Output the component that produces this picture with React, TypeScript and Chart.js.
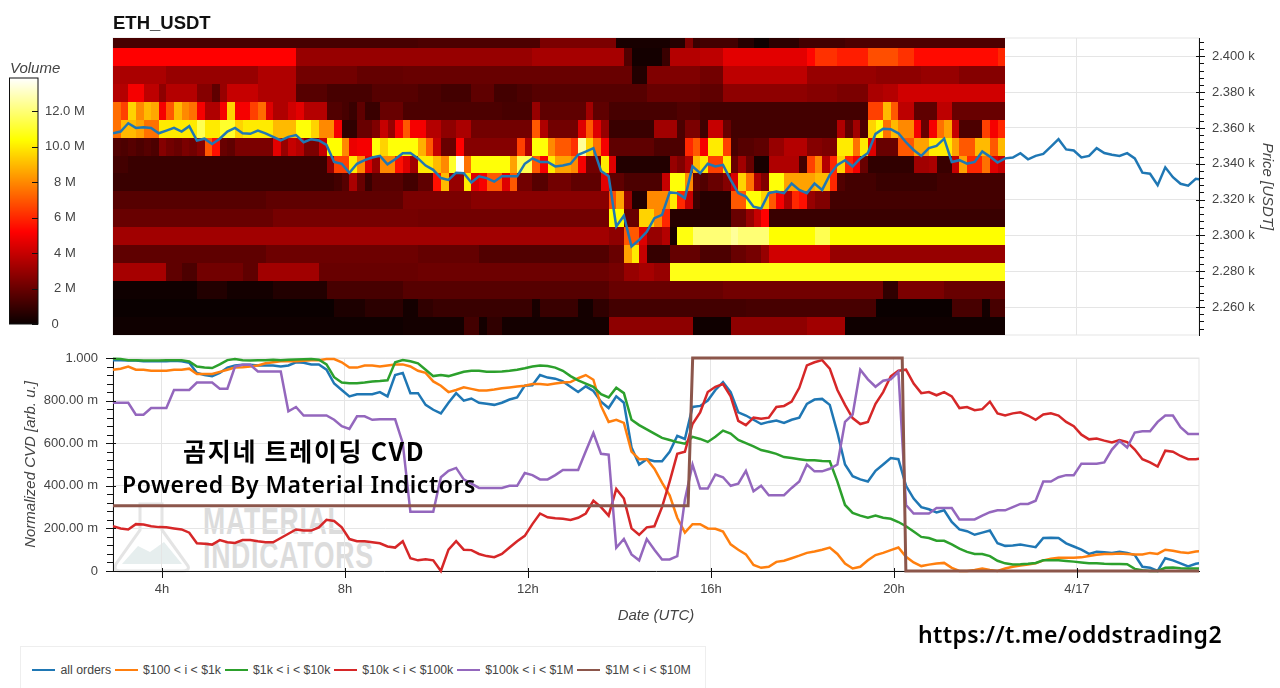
import { useEffect, useRef } from "react";
import { Chart, registerables } from "chart.js";

Chart.register(...registerables);

// time axis, in hours of 4/16 (24 = 4/17 00:00), one sample every 10 minutes
const startHour = 2.93;
const stepHours = 1 / 6;

const seriesLabels = ["all orders", "$100 < i < $1k", "$1k < i < $10k", "$10k < i < $100k", "$100k < i < $1M", "$1M < i < $10M"];
const seriesColors = ["#1f77b4", "#ff7f0e", "#2ca02c", "#d62728", "#9467bd", "#8c564b"];

const price = [
  2357, 2358, 2362.6, 2360, 2360.4, 2360, 2357, 2358.5, 2360, 2358, 2361, 2353, 2354, 2351, 2354, 2358, 2360, 2357, 2356.7, 2358.5,
  2357, 2355, 2353, 2355, 2356, 2352, 2353.7, 2353, 2350.5, 2341, 2340, 2335, 2340, 2342, 2343.5, 2344.4, 2339.7, 2342.5, 2345.9, 2346,
  2343, 2339, 2336.6, 2332, 2331, 2335, 2334.7, 2329.5, 2333, 2332, 2330, 2333, 2333, 2333, 2340, 2343, 2341, 2341, 2338.5, 2339,
  2340, 2345, 2346.8, 2348.7, 2336, 2333, 2305, 2311, 2293.8, 2297.5, 2302, 2309.6, 2311.5, 2324, 2323.6, 2320.8, 2338.5, 2334.7, 2340, 2338.5,
  2339.4, 2331, 2323.6, 2321.7, 2316, 2315, 2323.6, 2324.5, 2323.6, 2329, 2325.4, 2323.6, 2329, 2325.4, 2333.8, 2339.4, 2342, 2338.5, 2343, 2346,
  2356.7, 2359.5, 2359.3, 2357, 2352, 2347.7, 2344.4, 2348.7, 2350, 2354, 2341, 2342, 2340, 2341, 2346.8, 2344, 2340.7, 2343, 2343.5, 2345.9,
  2342.5, 2344.4, 2345.5, 2349.6, 2353.7, 2348, 2347.4, 2343.5, 2344.4, 2348.7, 2346, 2345, 2344.4, 2345.9, 2343, 2335, 2334.4, 2328, 2338, 2332.5,
  2328.8, 2327.8, 2331.6, 2331,
];

const allOrders = [
  0.99, 0.99, 0.988, 0.988, 0.985, 0.985, 0.985, 0.985, 0.987, 0.985, 0.978, 0.93, 0.92, 0.915, 0.93, 0.955, 0.965, 0.968, 0.968, 0.965,
  0.965, 0.965, 0.96, 0.965, 0.98, 0.978, 0.97, 0.97, 0.945, 0.88, 0.85, 0.82, 0.83, 0.83, 0.83, 0.84, 0.82, 0.92, 0.93, 0.835,
  0.835, 0.78, 0.757, 0.74, 0.79, 0.835, 0.8, 0.81, 0.79, 0.785, 0.78, 0.79, 0.805, 0.815, 0.87, 0.872, 0.92, 0.908, 0.903, 0.89,
  0.865, 0.84, 0.867, 0.845, 0.795, 0.765, 0.82, 0.79, 0.58, 0.5, 0.525, 0.515, 0.515, 0.56, 0.635, 0.62, 0.77, 0.775, 0.8, 0.85,
  0.887, 0.84, 0.745, 0.73, 0.71, 0.69, 0.7, 0.706, 0.695, 0.71, 0.72, 0.785, 0.805, 0.808, 0.78, 0.65, 0.5, 0.445, 0.43, 0.42,
  0.47, 0.5, 0.53, 0.525, 0.4, 0.34, 0.3, 0.29, 0.275, 0.285, 0.23, 0.195, 0.187, 0.17, 0.18, 0.19, 0.13, 0.118, 0.12, 0.124,
  0.118, 0.112, 0.155, 0.156, 0.155, 0.13, 0.115, 0.1, 0.08, 0.09, 0.088, 0.085, 0.09, 0.085, 0.075, 0.02, 0.015, 0, 0.06, 0.05,
  0.036, 0.022, 0.034, 0.04,
];

const orders100to1k = [
  0.945, 0.95, 0.96, 0.945, 0.945, 0.94, 0.94, 0.94, 0.945, 0.945, 0.95, 0.925, 0.925, 0.925, 0.935, 0.945, 0.955, 0.957, 0.96, 0.965,
  0.975, 0.98, 0.985, 0.985, 0.985, 0.987, 0.99, 0.99, 0.995, 0.995, 0.98, 0.955, 0.955, 0.965, 0.965, 0.96, 0.965, 0.97, 0.97, 0.96,
  0.94, 0.93, 0.89, 0.87, 0.84, 0.85, 0.862, 0.855, 0.848, 0.848, 0.852, 0.858, 0.862, 0.866, 0.87, 0.878, 0.878, 0.875, 0.88, 0.885,
  0.887, 0.905, 0.92, 0.898, 0.775, 0.7, 0.71, 0.695, 0.56, 0.525, 0.525, 0.48, 0.415, 0.355, 0.25, 0.18, 0.22, 0.22, 0.2, 0.198,
  0.185, 0.125, 0.1, 0.078, 0.028, 0.015, 0.02, 0.043, 0.048, 0.06, 0.072, 0.085, 0.092, 0.1, 0.11, 0.08, 0.035, 0.012, 0.02, 0.05,
  0.075, 0.085, 0.098, 0.11, 0.067, 0.04, 0.023, 0.03, 0.035, 0.038, 0.015, 0, 0, 0.005, 0.012, 0.005, 0, 0.012, 0.02, 0.026,
  0.03, 0.036, 0.05, 0.058, 0.062, 0.062, 0.062, 0.064, 0.07, 0.076, 0.08, 0.08, 0.082, 0.08, 0.078, 0.078, 0.085, 0.08, 0.1, 0.095,
  0.088, 0.085, 0.092, 0.093,
];

const orders1kto10k = [
  0.996, 0.995, 0.99, 0.99, 0.988, 0.988, 0.988, 0.99, 0.99, 0.99, 0.984, 0.96, 0.955, 0.953, 0.97, 0.99, 0.995, 0.99, 0.988, 0.99,
  0.99, 0.992, 0.99, 0.992, 0.993, 0.994, 0.995, 0.992, 0.97, 0.91, 0.885, 0.882, 0.882, 0.885, 0.89, 0.892, 0.895, 0.98, 0.99, 0.985,
  0.975, 0.945, 0.915, 0.92, 0.915, 0.925, 0.935, 0.94, 0.94, 0.935, 0.935, 0.937, 0.94, 0.945, 0.952, 0.96, 0.965, 0.962, 0.955, 0.94,
  0.915, 0.895, 0.88, 0.865, 0.83, 0.815, 0.86, 0.835, 0.71, 0.685, 0.665, 0.645, 0.625, 0.615, 0.605, 0.598, 0.63, 0.62, 0.606, 0.63,
  0.659, 0.645, 0.615, 0.6, 0.585, 0.568, 0.56, 0.55, 0.535, 0.53, 0.525, 0.52, 0.52, 0.517, 0.515, 0.42, 0.31, 0.273, 0.26, 0.25,
  0.26, 0.25, 0.245, 0.23, 0.21, 0.185, 0.16, 0.155, 0.142, 0.142, 0.125, 0.105, 0.09, 0.08, 0.08, 0.07, 0.048, 0.036, 0.031, 0.032,
  0.034, 0.038, 0.05, 0.05, 0.05, 0.047, 0.044, 0.04, 0.036, 0.036, 0.034, 0.033, 0.033, 0.032, 0.01, 0.004, 0, 0, 0.015, 0.016,
  0.013, 0.012, 0.012, 0.012,
];

const orders10kto100k = [
  0.21, 0.2, 0.195, 0.22, 0.218, 0.21, 0.206, 0.205, 0.2, 0.195, 0.18, 0.13, 0.128, 0.124, 0.145, 0.135, 0.132, 0.145, 0.146, 0.14,
  0.135, 0.135, 0.155, 0.175, 0.195, 0.19, 0.19, 0.205, 0.24, 0.235, 0.205, 0.15, 0.14, 0.14, 0.135, 0.13, 0.115, 0.11, 0.14, 0.06,
  0.05, 0.055, 0.05, 0, 0.1, 0.14, 0.1, 0.098, 0.08, 0.07, 0.065, 0.08, 0.11, 0.14, 0.165, 0.22, 0.27, 0.252, 0.248, 0.245,
  0.24, 0.25, 0.27, 0.33, 0.3, 0.26, 0.385, 0.34, 0.2, 0.17, 0.205, 0.21, 0.3, 0.42, 0.55, 0.56, 0.69, 0.745, 0.84, 0.865,
  0.878, 0.82, 0.705, 0.685, 0.72, 0.715, 0.72, 0.77, 0.775, 0.795, 0.86, 0.965, 0.98, 0.99, 0.95, 0.85, 0.78, 0.718, 0.69, 0.7,
  0.785, 0.84, 0.914, 0.94, 0.945, 0.88, 0.835, 0.84, 0.825, 0.84, 0.82, 0.765, 0.77, 0.755, 0.76, 0.795, 0.74, 0.73, 0.74, 0.745,
  0.73, 0.71, 0.735, 0.74, 0.73, 0.7, 0.68, 0.64, 0.618, 0.622, 0.612, 0.604, 0.615, 0.605, 0.57, 0.525, 0.51, 0.49, 0.565, 0.56,
  0.54, 0.525, 0.525, 0.53,
];

const orders100kto1M = [
  0.79, 0.79, 0.79, 0.734, 0.734, 0.765, 0.765, 0.765, 0.85, 0.85, 0.85, 0.885, 0.885, 0.885, 0.856, 0.856, 0.96, 0.968, 0.968, 0.937,
  0.937, 0.937, 0.937, 0.75, 0.77, 0.73, 0.73, 0.73, 0.73, 0.71, 0.68, 0.667, 0.726, 0.726, 0.71, 0.712, 0.712, 0.712, 0.6, 0.278,
  0.278, 0.278, 0.278, 0.44, 0.47, 0.484, 0.43, 0.41, 0.39, 0.39, 0.39, 0.39, 0.4, 0.4, 0.46, 0.45, 0.43, 0.43, 0.45, 0.474,
  0.474, 0.474, 0.562, 0.648, 0.55, 0.546, 0.109, 0.15, 0.078, 0.05, 0.15, 0.1, 0.054, 0.054, 0.07, 0.335, 0.5, 0.387, 0.387, 0.453,
  0.44, 0.4, 0.41, 0.47, 0.374, 0.4, 0.356, 0.356, 0.356, 0.39, 0.42, 0.5, 0.468, 0.468, 0.48, 0.5, 0.7, 0.734, 0.945, 0.9,
  0.865, 0.893, 0.9, 0.935, 0.31, 0.27, 0.27, 0.27, 0.296, 0.296, 0.296, 0.242, 0.242, 0.242, 0.26, 0.276, 0.285, 0.285, 0.3, 0.315,
  0.315, 0.33, 0.42, 0.42, 0.44, 0.45, 0.45, 0.504, 0.504, 0.504, 0.51, 0.57, 0.61, 0.58, 0.65, 0.656, 0.656, 0.7, 0.73, 0.73,
  0.675, 0.643, 0.643, 0.643,
];

// the largest bucket only jumps twice, so it keeps its own time list
const orders1Mto10MTimes = [2.93, 15.5, 15.6, 20.18, 20.26, 26.7];
const orders1Mto10M = [0.306, 0.306, 1, 1, 0, 0];

const cvdSeries = [allOrders, orders100to1k, orders1kto10k, orders10kto100k, orders100kto1M];

// order book heatmap: price bins, then volume in millions per bin and 10 minute column
const heatPrices = [2409.6, 2399.6, 2389.6, 2379.6, 2369.6, 2359.6, 2349.6, 2339.6, 2329.6, 2319.6, 2309.6, 2299.6, 2289.6, 2279.6, 2269.6, 2259.6, 2249.6];
const heatVolumes = [
  [
    1.3,1.3,1.3,1.3,1.3,1.3,1.3,1.3,1.3,1.3,1.3,1.3,1.3,1.3,1.3,1.3,1.3,1.3,1.3,1.3,
    1.3,1.3,1.3,1.3,1.3,1.3,1.3,1.3,1.3,1.3,1.3,1.3,1.3,1.3,1.3,1.3,1.3,1.3,1.3,1.3,
    1.4,1.4,1.4,1.4,1.4,1.4,1.4,1.4,1.4,1.4,1.4,1.4,1.4,1.4,1.4,1.4,2.4,2.4,2.4,2.4,
    2.4,2.4,2.4,2.4,2.4,2.4,.3,.3,.3,.3,.3,.3,.3,.6,.6,2.5,1,1.2,1.2,1.2,
    1.2,1.2,.6,.6,.1,.1,.7,.7,.7,.7,1.2,1.2,1.2,1.2,1.2,1.2,1.4,1.4,1.4,1.4,
    1.4,1.4,1.4,1.4,1.4,1.4,1.4,1.4,1.4,1.4,1.4,1.4,1.4,1.4,1.4,1.4,1.4,
  ],
  [
    5.2,5.2,5.2,5.2,5.2,5.2,5.2,5.2,5.2,5.2,5.2,5.2,5.2,5.2,5.2,5.2,5.2,5.2,5.2,5.2,
    5.2,5.2,5.2,5.2,3,3,3,3,3,3,3,3,3,3,3,3,3,3,3,3,
    3,3,3,3,3,3,3,3,3,3,3,3,3,3,3,3.3,3.3,3.3,3.3,3.3,
    3.3,3.3,3.3,3.3,3.3,3.3,3.3,1.5,.2,.2,.2,.2,1,3.6,3.6,3.6,3.6,3.8,3.8,3.8,
    4.6,4.6,4.6,4.6,4.6,4.6,4.6,4.6,4.6,4.6,4.6,5.3,6.2,6.2,6.2,5.8,5.8,5.8,5.8,6.8,
    6.8,6.8,6.8,6.2,6.2,5.4,5.4,5.4,5.4,5.4,5.4,5.4,5.4,5.4,5.4,5.4,6,
  ],
  [
    3.4,3.4,3.4,3.4,3.4,3.4,3.4,3,3,3,3,3,3,3,3,3,3,3,3,3.5,
    3.5,3.5,3.5,3.5,2.2,2.2,2.2,2.2,2.2,2.2,2.2,2.2,1.9,1.9,1.9,1.9,1.9,1.9,2,2,
    2,2,2,2,2,2,2,2,2,2,2,2,2,2,2,2,2,2,2,2,
    2,2,2,2,2,2,2,2,.5,.5,2.5,2.5,2.5,2.5,2.5,2.5,2.5,2.2,2.2,2.2,
    3.8,3.8,3.8,3.8,3.8,3.8,3.8,3.8,3.8,3.8,3.8,3,3,3,3,3,3,3,3,3,
    2.8,2.8,2.8,2.8,2.8,2.8,3,3,3,3,3,2.6,2.6,2.6,2.6,2.6,2.6,
  ],
  [
    3.6,3.6,5,5,3.8,3.8,2.8,3.6,3.6,3.6,3.6,2.6,2.6,1.8,3,4,4,4,4,3.5,
    3.5,3.5,3.5,3.5,1.6,1.6,1.6,1.6,1.3,1.3,1.3,1.3,1.3,1.3,1.6,1.6,1.6,1.6,1.6,1.6,
    1.4,1.4,1.4,1.2,1.2,1.2,1.2,1.8,1.8,1.8,1.2,1.2,1.2,1.4,1.4,1.6,1.6,1.6,1.6,1.6,
    1.6,1.6,1.6,1.6,1.6,1.6,1.6,1.6,1.6,1.6,2,2,2,2,2,2,2,1.8,1.8,1.8,
    2.8,2.8,2.8,2.8,2.8,2.8,2.8,2.8,2.8,2.8,2.8,2.6,2.6,2.6,2.6,2.4,2.4,2.4,2.4,3.4,
    3.4,3.6,3.6,4.2,4.2,4.2,4.2,4.2,4.2,4.2,4.2,4.2,4.2,4.2,4.2,4.2,4.2,
  ],
  [
    7.4,6.5,9.5,8,9,8.6,5,7,9,8,7.5,5,3.5,3.5,5,9.5,5,5,6.5,7.4,
    4.5,3.5,3.5,4.2,4.6,3.6,3.6,3.6,1.5,1.5,1.3,1,1.8,1,1,2,2,2,1.4,1.4,
    1.4,1.4,1.4,1.4,1.4,1.4,1.4,1.4,1.4,1.4,1.4,1.3,1.3,1.3,1.3,3,1.8,1.8,1.8,1.8,
    1.8,1.8,3.2,1.8,1.8,1.3,1.3,1.3,1.3,1.3,1.3,1.3,1.3,1.3,1.5,1.5,1.5,1.2,1.2,1.2,
    1.2,1.2,1.2,1.2,1.2,1.2,1.2,1.2,1.2,1.2,1.2,1.2,1.2,1.2,1.2,1.2,1.2,1.2,1.2,6.5,
    6.5,9,7,3.8,3.8,1.8,1.8,1.8,3.8,3.8,2,2,2,2,2,2,2,
  ],
  [
    7.5,9,9,8.5,7.5,7.5,10,10,10,10,10,11.5,10,10,11,11,9.5,10,10,10,
    10,9,9,9,10.5,10.5,9.5,8,8,5,.8,.8,2,2,2.5,4,3,5,7,5,
    5,3.6,3.6,2.8,2.8,3.4,3.4,2.2,2.2,2.2,2.2,2.2,2.2,2.2,2.2,7,3.5,2.2,2.2,2.2,
    2.2,4.5,7,4.5,3,1,1,1,1,1,1,3.2,3.2,3.2,1.4,2.4,2.4,1.1,4,4,
    2,1.2,1.2,1.2,1.2,1.2,1.2,1.2,1.2,1.2,1.2,1.2,1.2,1.2,1.2,3.5,1.8,3.2,1.4,9.5,
    10.5,7.5,9,8,8,5,2,5,7.5,8.5,4,1.4,1.4,1.4,6.5,5,6,
  ],
  [
    1.5,1.4,1.6,1.4,1.6,1.4,2.6,2.2,2,2.4,2.2,2.6,7,5.5,2,1.8,2.4,2.4,2.4,2.4,
    2.4,4.6,3,4,3.6,2.4,2.4,4,10.4,10.4,8,4.8,5,5,10.5,9.5,10.5,10.5,10.5,10.5,
    8.8,7,4,2,2,5.2,2.6,2.6,2.6,2.6,2.6,2.6,2.6,6.5,3.5,10.5,10.5,8,7,7,
    6.2,12.5,9.5,7.5,5,1.8,1.8,1.8,1.8,1.8,1.8,1.4,1.4,1.4,1.4,6,7,5,10,10,
    6.5,1.3,1.6,1.6,1.8,1.8,3,3,3.6,3.6,3.6,2.6,2.6,2.4,2.4,10,10,7.5,10,4.5,
    2,2,2,7,7,8.5,8.5,10,10,10,8.5,7,7,9,9,7,9,
  ],
  [
    1.2,1.2,1,1,1,1,1,1,1,1,1,1,1,1,1,1,1,1,1,1,
    1,1,1,1,1,1,1,1,3,6.5,6.5,10,8,4.5,3,8,8,5.5,4.5,3.2,
    10,10,9,8,11,13.8,7.5,10.5,10.5,10.5,10.5,10.5,8.5,11.5,11.5,7,5,10,8.5,8.5,
    8,5,2.2,2.2,10,4.5,.5,.5,.5,.5,.5,.5,.5,3,2.5,3.5,9,10,6.5,6.5,
    10,2,3.2,2,.3,.3,3.5,3.5,3.5,3.5,1.2,6.5,8,3.6,6,9.5,6,5,2,.8,
    .8,.8,.8,.8,.8,3.2,3.2,3.4,1,1,4,8.5,6,6,7.5,4.5,4,
  ],
  [
    1,1,1,1,1,1,1,1,1,1,1,1,1,1,1,1,1,1,1,1,
    1,1,1,1,1,1,1,1,1,1.2,1.6,3.4,2,1,1.6,1.6,1.6,1.6,1.2,1.2,
    1.8,1.8,5.5,9,3,3,10,4.5,5,7,7,4.5,7,2.2,2.2,1.6,1.6,2.2,2.2,2.2,
    1.8,1.8,1.8,1.8,4.6,1.8,1.8,1.4,1.4,1.4,1.4,1.4,4,10.5,10.5,8,1.8,1.5,2,2,
    2.6,4.4,9.5,7.5,3.5,2.5,10.5,10.5,8.5,8.5,8.5,8.5,9,9,6,1.5,1.2,1.2,1.2,1.2,
    1,1,1,1,1,1,1,1,1.2,1.2,1.2,1.2,1.2,1.2,1.2,1.2,1.2,
  ],
  [
    1.6,1.6,1.6,1.6,1.6,1.6,1.6,1.6,1.6,1.6,1.6,1.6,1.6,1.6,1.6,1.6,1.6,1.6,1.6,1.6,
    1.8,1.8,1.8,1.8,1.8,1.8,1.8,1.8,1.8,1.8,1.8,1.8,1.8,1.8,1.8,1.8,1.8,1.8,2.4,2.4,
    2.4,2.4,2.4,2.4,2.4,2.4,2.4,2.7,2.7,2.7,2.7,2.7,2.7,2.7,2.7,2.7,2.7,2.7,2.7,2.7,
    2.7,2.7,2.7,2.7,2.7,6.8,8.5,3,.5,.5,8,8,8,10,6,4,1,.6,.6,.6,
    .6,7,7,10.5,10.5,9.5,7,5,3.5,6,5.5,3,2.5,2.5,1.2,1.2,1.2,1.2,1.2,1.2,
    1.2,1.2,1.2,1.2,1.2,1.2,1.2,1.2,1.2,1.2,1.2,1.2,1.2,1.2,1.2,1.2,1.2,
  ],
  [
    2,2,2,2,2,2,2,2,2,2,2,2,2,2,2,2,2,2,2,2,
    2,2.3,2.3,2.3,2.3,2.3,2.3,2.3,2.3,2.3,2.3,2.3,2.3,2.3,2.3,2.3,2.3,2.3,2.3,2.3,
    2.2,2.2,2.2,2.2,2.2,2.2,2.2,2.2,2.2,2.2,2.2,2.2,2.2,2.2,2.2,2.2,2.2,2.2,2.2,2.2,
    2.2,2.2,2.2,2.2,2.2,10.4,10.4,2,2,9.5,9.5,8,6,.6,.6,.6,.6,.6,.6,.6,
    .6,2,2,3,4,5.2,1,1,1,1,1,1,1,1,1,1,1,1,1,1,
    1,1,1,1,1,1,1,1,1,1,1,1,1,1,1,1,1,
  ],
  [
    3.2,3.2,3.2,3.2,3.2,3.2,3.2,3.2,3.2,3.2,3.2,3.2,3.2,3.2,3.2,3.2,3.2,3.2,3.2,3.2,
    3.2,3.2,3.2,3.2,3.2,3.2,3.2,3.2,3.2,3.2,3.2,3.2,3.2,3.2,3.2,3.2,3.2,3.2,3.2,3.2,
    3.2,3.2,3.2,3.2,3.2,3.2,3.2,3.2,3.2,3.2,3.2,3.2,3.2,3.2,3.2,3.2,3.2,3.2,3.2,3.2,
    3.2,3.2,3.2,3.2,3.2,2.8,2.8,7,7,4.5,3,3,3.6,.3,10.6,10.6,12,12,12,12,
    12,12.5,12,12,12,12,10.4,10.4,10.4,10.4,10.4,10.4,11.5,11.5,10.4,10.4,10.4,10.4,10.4,10.4,
    10.4,10.4,10.4,10.4,10.4,10.4,10.4,10.4,10.4,10.4,10.4,10.4,10.4,10.4,10.4,10.4,10.4,
  ],
  [
    1.8,1.8,1.8,1.8,1.8,1.8,1.8,1.8,1.8,1.8,1.8,1.8,1.8,1.8,1.8,1.8,1.8,1.8,1.8,1.8,
    2.1,2.1,2.1,2.1,2.1,2.1,2.1,2.1,2.1,2.1,2.1,2.1,2.1,2.1,2.1,2.1,2.1,2.1,2.1,2.1,
    1.9,1.9,1.9,1.9,1.9,1.9,1.9,1.9,1.5,1.5,1.5,1.5,1.5,1.5,1.5,1.5,1.5,1.5,1.5,1.5,
    1.5,1.5,1.5,1.5,1.5,2,2,8.5,10,4,.9,.9,.9,1.9,1.9,1.9,1.9,1.4,1.4,1.4,
    1.4,2,2,2.3,2.3,3,4.2,4.2,4.2,4.2,4.2,4.2,4.2,4.2,3,3,3,3,3,3,
    3,3,3,3,3,3,3,3,3,3,3,3,3,3,3,3,3,
  ],
  [
    3.3,3.3,3.3,3.3,3.3,3.3,3.3,1.8,1.8,1.4,1.4,2.2,2.2,2.2,2.2,2.2,2.2,1.8,1.8,3.2,
    3.2,3.2,3.2,3.2,3.2,3.2,3.2,2,2,2,2,2,2,2,2,2,2,2,2,2,
    2.1,2.1,2.1,2.1,2.1,2.1,2.1,2.1,2.1,2.1,2.1,2.1,2.1,2.1,2.1,2.1,2.1,2.1,2.1,2.1,
    2.1,2.1,2.1,2.1,2.1,2.3,2.3,3,3,3.3,3.3,3,3,10.7,10.7,10.7,10.7,10.7,10.7,10.7,
    10.7,10.7,10.7,10.7,10.7,10.7,10.7,10.7,10.7,10.7,10.7,10.7,10.7,10.7,10.7,10.7,10.7,10.7,10.7,10.7,
    10.7,10.7,10.7,10.7,10.7,10.7,10.7,10.7,10.7,10.7,10.7,10.7,10.7,10.7,10.7,10.7,10.7,
  ],
  [
    .1,.1,.1,.1,.1,.1,.1,.1,.1,.1,.1,.5,.5,.5,.5,.2,.2,.2,.2,.2,
    .2,.5,.5,.5,.5,.5,.5,.5,1.3,1.3,1.3,1.3,1.3,1.3,1.3,1.3,1.3,1.3,1.6,1.6,
    1.6,1.6,1.6,1.6,1.6,1.6,1.6,1.6,1.6,1.6,1.6,1.6,1.6,1.6,1.6,1.6,1.6,1.6,1.6,1.6,
    1.6,1.6,1.6,1.6,1.6,2,2,2,2,2,2,2,2,2,2,2,2,2,2,2,
    2.2,2.2,2.2,2.2,2.2,2.2,2.2,2.2,2.2,2.2,2.2,2.2,2.2,2.2,2.2,2.2,2.2,2.2,2.2,2.2,
    2.2,.8,.8,2.4,2.4,2.4,2.4,2.4,2.4,2,2,2,2,2,2,2,2,
  ],
  [
    0,0,0,0,0,0,0,0,0,0,0,0,0,0,0,0,0,0,0,0,
    0,0,0,0,0,0,0,0,0,.4,.4,.4,.4,.7,.7,.7,.7,.7,.2,.2,
    .8,.8,1,1,1,1,1,1,1,1,1,1,1,1,1,.3,1,1,1,1,
    1,.2,.2,.8,.8,1.2,1.2,1.2,1.2,1.2,1.2,1.2,1.2,1.2,1.2,1.2,1.2,1.2,1.2,1.2,
    1.2,1.2,1.2,1.3,1.3,1.3,1.3,1.3,1.3,1.3,1.3,1.3,1.3,1.3,1.3,1.3,1.3,1.3,1.3,1.3,
    0,0,0,0,0,0,0,0,0,0,1.3,1.3,1.3,1.3,.2,1.3,1.3,
  ],
  [
    .1,.1,.1,.1,.1,.1,.1,.1,.1,.1,.1,.1,.1,.1,.1,.1,.1,.1,.1,.1,
    .1,.1,.1,.1,.1,.1,.1,.1,.1,.1,.1,.1,.1,.1,.1,.1,.1,.1,.2,.2,
    .2,.2,.2,.2,.2,.2,1.2,1.2,.2,.8,.8,.2,.2,.2,.2,.2,.2,.2,.2,.2,
    .2,.2,.2,.2,.2,2.8,2.8,2.8,2.8,2.8,2.8,2.8,2.8,2.8,2.8,2.8,.1,.1,.1,.1,
    .1,2.8,2.8,2.8,2.8,2.8,2.8,2.8,2.8,2.8,2.8,3.2,3.2,3.2,3.2,3.2,.1,.1,.1,.1,
    .1,.1,.1,.1,.1,.1,.1,.1,.1,.1,.1,.1,.1,.1,.1,.1,.1,
  ],
];

const volumeMax = 13.87;
const gridColor = "#e5e5e5";
const textColor = "#444";
const fontFamily = "'Liberation Sans', Arial, sans-serif";

// same shape as the "hot" palette
function hotColor(v: number) {
  const t = Math.min(1, Math.max(0, v / volumeMax));
  const r = Math.min(1, 0.04 + (t / 0.375) * 0.96);
  const g = Math.min(1, Math.max(0, (t - 0.375) / 0.375));
  const b = Math.min(1, Math.max(0, (t - 0.75) / 0.25));
  return `rgb(${Math.round(r * 255)},${Math.round(g * 255)},${Math.round(b * 255)})`;
}

const heatmapPlugin = {
  id: "heatmap",
  beforeDatasetsDraw(chart: any) {
    const { ctx, chartArea, scales } = chart;
    ctx.save();
    ctx.beginPath();
    ctx.rect(chartArea.left, chartArea.top, chartArea.right - chartArea.left, chartArea.bottom - chartArea.top);
    ctx.clip();
    heatVolumes.forEach((row, r) => {
      const top = Math.round(scales.y.getPixelForValue(heatPrices[r] + 5));
      const bottom = Math.round(scales.y.getPixelForValue(heatPrices[r] - 5));
      row.forEach((volume, c) => {
        const left = Math.round(scales.x.getPixelForValue(startHour + c * stepHours));
        const right = Math.round(scales.x.getPixelForValue(startHour + (c + 1) * stepHours));
        ctx.fillStyle = hotColor(volume);
        ctx.fillRect(left, top, right - left, bottom - top);
      });
    });
    ctx.restore();
  },
};

const outlinePlugin = {
  id: "outline",
  beforeDraw(chart: any) {
    const { ctx, chartArea: a } = chart;
    ctx.save();
    ctx.strokeStyle = gridColor;
    ctx.lineWidth = 1;
    ctx.strokeRect(a.left, a.top, a.right - a.left, a.bottom - a.top);
    ctx.restore();
  },
};

// bokeh style tick marks which straddle the axis line
function tickMarks(id: string, major: number[], minor: number[]) {
  return {
    id: "ticks-" + id,
    afterDraw(chart: any) {
      const { ctx, chartArea: a } = chart;
      const scale = chart.scales[id];
      ctx.save();
      ctx.strokeStyle = "#111";
      ctx.lineWidth = 1;
      scale.ticks.forEach((tick: any) => {
        const span = tick.label !== "" ? major : minor;
        const p = Math.round(scale.getPixelForValue(tick.value)) + 0.5;
        ctx.beginPath();
        if (scale.isHorizontal()) {
          ctx.moveTo(p, a.bottom + span[0]);
          ctx.lineTo(p, a.bottom + span[1]);
        } else {
          const base = scale.position === "right" ? a.right : a.left;
          ctx.moveTo(base + span[0], p);
          ctx.lineTo(base + span[1], p);
        }
        ctx.stroke();
      });
      ctx.restore();
    },
  };
}

const colorbarPlugin = {
  id: "colorbar",
  beforeDatasetsDraw(chart: any) {
    const { ctx, chartArea: a, scales } = chart;
    for (let y = Math.floor(a.top); y < a.bottom; y++) {
      ctx.fillStyle = hotColor(scales.y.getValueForPixel(y + 0.5));
      ctx.fillRect(a.left, y, a.right - a.left, 1);
    }
    ctx.strokeStyle = "#111";
    ctx.lineWidth = 1;
    ctx.strokeRect(a.left, a.top, a.right - a.left, a.bottom - a.top);
  },
};

function timeLabel(v: number) {
  return v === 24 ? "4/17" : v + "h";
}

function cvdLabel(v: number) {
  const milli = Math.round(v * 1000);
  if (milli % 200 !== 0) return "";
  if (milli === 0) return "0";
  if (milli === 1000) return "1.000";
  return milli.toFixed(2) + " m";
}

function timeAxis(showLabels: boolean) {
  return {
    type: "linear" as const,
    min: startHour,
    max: 26.667,
    border: { display: showLabels, color: "#111" },
    grid: { color: gridColor, drawTicks: false },
    ticks: {
      stepSize: 4,
      includeBounds: false,
      autoSkip: false,
      maxRotation: 0,
      display: showLabels,
      padding: 11,
      color: textColor,
      font: { size: 13 },
      callback: (v: any) => timeLabel(v),
    },
    title: showLabels
      ? { display: true, text: "Date (UTC)", color: textColor, padding: { top: 4, bottom: 0 }, font: { size: 15, style: "italic" as const } }
      : { display: false },
    afterFit: (s: any) => {
      s.height = showLabels ? 54 : 0;
      s.paddingLeft = 0;
      s.paddingRight = 0;
    },
  };
}

const axisTitle = (text: string, pad: number) => ({
  display: true,
  text,
  color: textColor,
  padding: { top: pad, bottom: 0 },
  font: { size: 15, style: "italic" as const },
});

function fixedWidth(width: number) {
  return (s: any) => {
    s.width = width;
    s.paddingTop = 0;
    s.paddingBottom = 0;
  };
}

function xy(values: number[]) {
  return values.map((y, i) => ({ x: startHour + i * stepHours, y }));
}

export default function App() {
  const priceRef = useRef<HTMLCanvasElement | null>(null);
  const cvdRef = useRef<HTMLCanvasElement | null>(null);
  const barRef = useRef<HTMLCanvasElement | null>(null);

  useEffect(() => {
    if (!priceRef.current || !cvdRef.current || !barRef.current) return;
    Chart.defaults.font.family = fontFamily;

    const priceChart = new Chart(priceRef.current, {
      type: "line",
      data: {
        datasets: [
          {
            label: "Price",
            data: xy(price),
            borderColor: seriesColors[0],
            borderWidth: 2.5,
            pointRadius: 0,
            tension: 0,
          },
        ],
      },
      options: {
        responsive: false,
        animation: false,
        events: [],
        layout: { padding: { left: 113, right: 0, top: 38, bottom: 5 } },
        plugins: { legend: { display: false }, tooltip: { enabled: false } },
        scales: {
          x: timeAxis(false),
          y: {
            type: "linear",
            position: "right",
            min: 2244.4,
            max: 2410.2,
            border: { color: "#111" },
            grid: {
              drawTicks: false,
              color: (c: any) => (c.tick && c.tick.value % 20 === 0 ? gridColor : "transparent"),
            },
            ticks: {
              stepSize: 4,
              includeBounds: false,
              autoSkip: false,
              padding: 13,
              color: textColor,
              font: { size: 13 },
              callback: (v: any) => (v % 20 === 0 ? (v / 1000).toFixed(3) + " k" : ""),
            },
            title: axisTitle("Price [USDT]", 4),
            afterFit: fixedWidth(81),
          },
        },
      },
      plugins: [outlinePlugin, heatmapPlugin, tickMarks("y", [-3, 6], [0, 5])],
    });

    const lineStyle = {
      pointRadius: 0,
      tension: 0,
      clip: { left: 0, right: 0, top: 3, bottom: 3 },
    };

    const cvdChart = new Chart(cvdRef.current, {
      type: "line",
      data: {
        datasets: [
          ...cvdSeries.map((values, i) => ({
            ...lineStyle,
            label: seriesLabels[i],
            data: xy(values),
            borderColor: seriesColors[i],
            borderWidth: 2.5,
            order: 5 - i,
          })),
          {
            ...lineStyle,
            label: seriesLabels[5],
            data: orders1Mto10M.map((y, i) => ({ x: orders1Mto10MTimes[i], y })),
            borderColor: seriesColors[5],
            borderWidth: 3,
            order: 0,
          },
        ],
      },
      options: {
        responsive: false,
        animation: false,
        events: [],
        layout: { padding: { left: 0, right: 81, top: 18, bottom: 0 } },
        plugins: { legend: { display: false }, tooltip: { enabled: false } },
        scales: {
          x: timeAxis(true),
          y: {
            type: "linear",
            min: 0,
            max: 1,
            border: { color: "#111" },
            grid: {
              drawTicks: false,
              color: (c: any) => (c.tick && Math.round(c.tick.value * 1000) % 200 === 0 ? gridColor : "transparent"),
            },
            ticks: {
              stepSize: 0.04,
              autoSkip: false,
              padding: 15,
              color: textColor,
              font: { size: 13 },
              callback: (v: any) => cvdLabel(v),
            },
            title: axisTitle("Normalized CVD [arb. u.]", 22),
            afterFit: fixedWidth(113),
          },
        },
      },
      plugins: [outlinePlugin, tickMarks("x", [-3, 7], [-3, 7]), tickMarks("y", [-7, 3], [-6, 0])],
    });

    const barChart = new Chart(barRef.current, {
      type: "line",
      data: { datasets: [{ data: [] }] },
      options: {
        responsive: false,
        animation: false,
        events: [],
        layout: { padding: { left: 9.5, right: 0, top: 8, bottom: 11 } },
        plugins: { legend: { display: false }, tooltip: { enabled: false } },
        scales: {
          x: { type: "linear", display: false },
          y: {
            type: "linear",
            position: "right",
            min: 0,
            max: volumeMax,
            border: { display: false },
            grid: { display: false, drawTicks: false },
            ticks: {
              stepSize: 2,
              includeBounds: false,
              autoSkip: false,
              padding: 7,
              crossAlign: "center",
              color: textColor,
              font: { size: 13 },
              callback: (v: any) => (v === 0 ? "0\u2003\u2002" : v >= 10 ? v.toFixed(1) + " M" : v + " M"),
            },
            afterFit: fixedWidth(72),
          },
        },
      },
      plugins: [colorbarPlugin, tickMarks("y", [-6, 0], [-6, 0])],
    });

    return () => {
      priceChart.destroy();
      cvdChart.destroy();
      barChart.destroy();
    };
  }, []);

  const canvasStyle = { position: "absolute" as const, left: 0 };
  const markFont = "bold 36px 'Liberation Sans', sans-serif";
  const markStyle = { position: "absolute" as const, left: 203, font: markFont, color: "#dcdcdc", letterSpacing: 1, transform: "scaleX(0.74)", transformOrigin: "left top" };

  return (
    <div style={{ position: "absolute", left: 0, top: 0, width: 1280, height: 688, overflow: "hidden", background: "#fff", fontFamily }}>
      {/* watermark sits under the chart */}
      <svg style={{ position: "absolute", left: 110, top: 498 }} width={85} height={76}>
        <path d="M30 6 H52 V32 L78 68 Q80 73 72 73 H10 Q3 73 6 66 L30 32 Z" fill="none" stroke="#e4e4e4" strokeWidth={3} />
        <path d="M12 66 L28 48 L40 54 L54 44 L72 66 Z" fill="#e6eeee" />
      </svg>
      <div style={{ ...markStyle, top: 501 }}>MATERIAL</div>
      <div style={{ ...markStyle, top: 535 }}>INDICATORS</div>

      <canvas ref={priceRef} width={1280} height={340} style={{ ...canvasStyle, top: 0 }} />
      <canvas ref={cvdRef} width={1280} height={285} style={{ ...canvasStyle, top: 340 }} />
      <canvas ref={barRef} width={110} height={265} style={{ ...canvasStyle, top: 70 }} />

      <div style={{ position: "absolute", left: 113, top: 12, font: "bold 18.5px 'Liberation Sans'", color: "#111" }}>ETH_USDT</div>
      <div style={{ position: "absolute", left: 10, top: 59, font: "italic 15px 'Liberation Sans'", color: textColor }}>Volume</div>

      <div style={{ position: "absolute", left: 183, top: 432, font: "bold 25px 'Noto Sans CJK KR'", letterSpacing: 1.7, color: "#000", whiteSpace: "nowrap" }}>곰지네 트레이딩 CVD</div>
      <div style={{ position: "absolute", left: 122, top: 468, font: "600 23px 'Noto Sans'", letterSpacing: 0.55, color: "#000", whiteSpace: "nowrap" }}>Powered By Material Indictors</div>
      <div style={{ position: "absolute", left: 918, top: 618, font: "600 23px 'Noto Sans'", letterSpacing: 0.4, color: "#000", whiteSpace: "nowrap" }}>https://t.me/oddstrading2</div>

      <div style={{ position: "absolute", left: 20, top: 646, width: 686, height: 50, border: "1px solid #eee", boxSizing: "border-box", display: "flex", alignItems: "flex-start", paddingLeft: 11, paddingTop: 16, font: "12.3px 'Liberation Sans'", color: textColor, whiteSpace: "nowrap" }}>
        {seriesLabels.map((label, i) => (
          <span key={label} style={{ display: "flex", alignItems: "center", marginRight: 3.5 }}>
            <span style={{ display: "inline-block", width: 23, height: 2.5, background: seriesColors[i], marginRight: 5.5 }} />
            {label}
          </span>
        ))}
      </div>
    </div>
  );
}
